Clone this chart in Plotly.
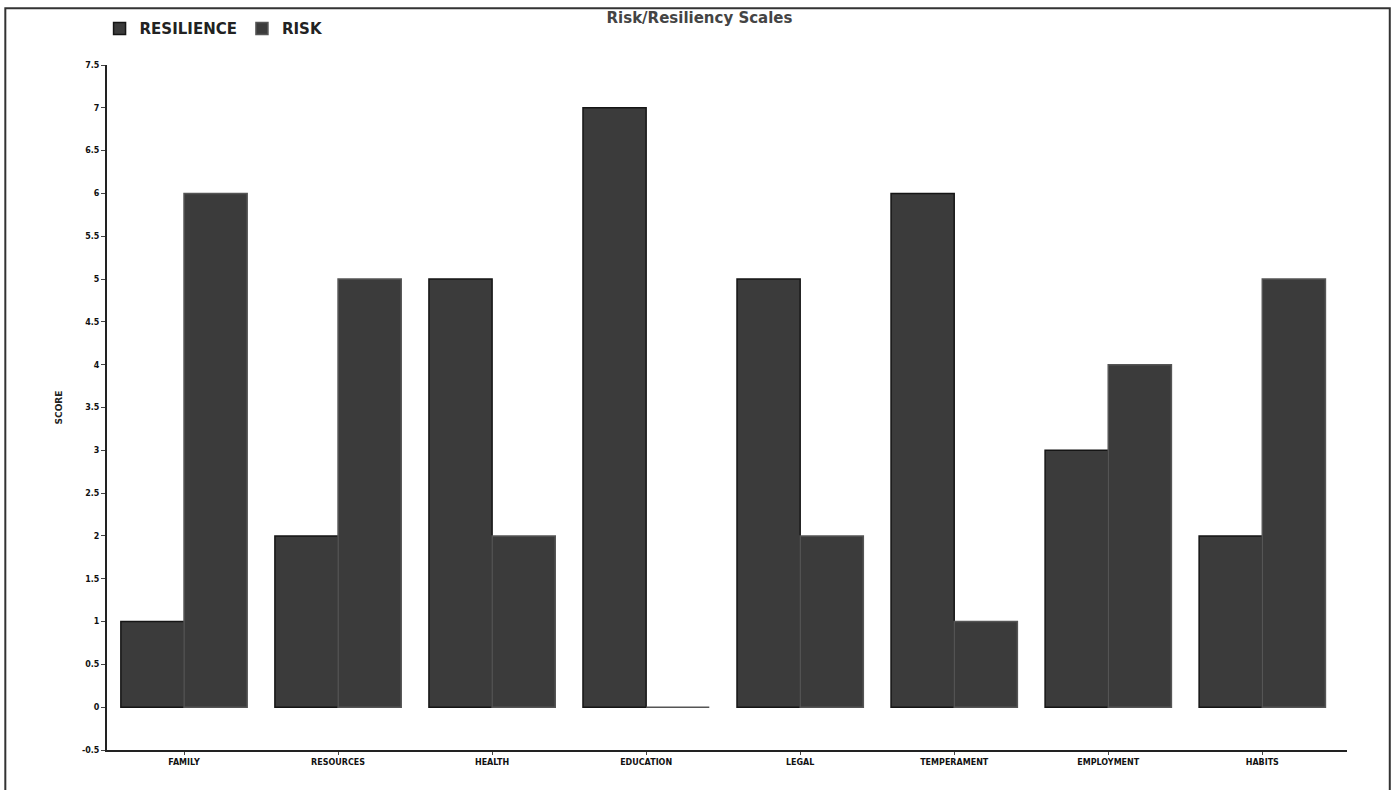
import plotly.graph_objects as go

categories = ["FAMILY", "RESOURCES", "HEALTH", "EDUCATION", "LEGAL",
              "TEMPERAMENT", "EMPLOYMENT", "HABITS"]
resilience = [1, 2, 5, 7, 5, 6, 3, 2]
risk = [6, 5, 2, 0, 2, 1, 4, 5]
y_ticks = [-0.5, 0, 0.5, 1, 1.5, 2, 2.5, 3, 3.5, 4, 4.5, 5, 5.5, 6, 6.5, 7, 7.5]

bar_fill = "#3b3b3b"
bar_edge = "#151515"

fig = go.Figure()
fig.add_trace(go.Bar(name="<b>RESILIENCE</b>", x=categories, y=resilience,
                     marker=dict(color=bar_fill, line=dict(color=bar_edge, width=1.5))))
fig.add_trace(go.Bar(name="<b>RISK</b>", x=categories, y=risk,
                     marker=dict(color=bar_fill, line=dict(color="#555555", width=1.5))))

fig.update_layout(
    width=1399, height=790,
    paper_bgcolor="white", plot_bgcolor="white",
    margin=dict(l=107, r=52, t=65, b=40),
    barmode="group", bargap=0.18, bargroupgap=0,
    font=dict(family="DejaVu Sans", color="#222222"),
    title=dict(text="<b>Risk/Resiliency Scales</b>", x=0.5, xanchor="center",
               y=0.978, yanchor="middle", font=dict(size=15, color="#444444")),
    legend=dict(orientation="h", x=-0.006, xanchor="left", y=1.053, yanchor="middle",
                font=dict(size=15, family="DejaVu Sans", color="#222222"),
                itemwidth=30, traceorder="normal", bgcolor="rgba(0,0,0,0)"),
    showlegend=True,
)
fig.update_xaxes(showline=True, linecolor="#222222", linewidth=2, ticks="outside",
                 ticklen=3, tickcolor="#444444", showgrid=False,
                 range=[-0.5, 7.55],
                 tickfont=dict(size=8, family="DejaVu Sans", color="#111111"),
                 ticktext=[f"<b>{c}</b>" for c in categories], tickvals=categories)
fig.update_yaxes(showline=True, linecolor="#222222", linewidth=2, ticks="outside",
                 ticklen=4, tickcolor="#444444", showgrid=False, zeroline=False,
                 range=[-0.5, 7.5], tickvals=y_ticks,
                 ticktext=[f"<b>{v:g}</b>" for v in y_ticks],
                 tickfont=dict(size=8, family="DejaVu Sans", color="#111111"),
                 title=dict(text="<b>SCORE</b>", font=dict(size=9), standoff=18))

# outer frame around the whole chart
fig.add_shape(type="rect", xref="paper", yref="paper",
              x0=-0.082, x1=1.0345, y0=-0.06, y1=1.083,
              line=dict(color="#333333", width=2), fillcolor="rgba(0,0,0,0)", layer="below")

fig.write_html("out.html", config={"displayModeBar": False},
               post_script="document.body.style.margin='0';")
